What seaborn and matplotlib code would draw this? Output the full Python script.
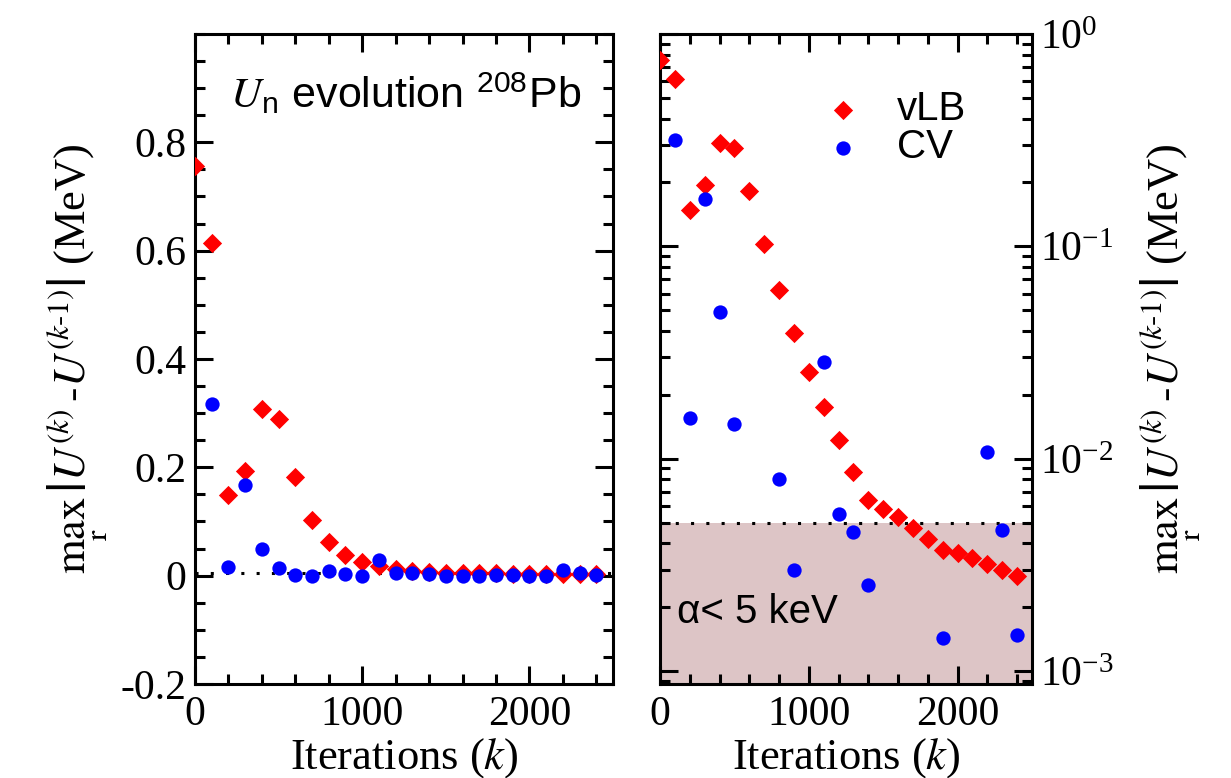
import matplotlib
matplotlib.use("Agg")
import numpy as np
import seaborn as sns
import matplotlib.pyplot as plt
from matplotlib.ticker import MultipleLocator, FixedLocator, LogLocator, LogFormatterMathtext, NullFormatter

# iterations k and max_r |U(k) - U(k-1)| in MeV
iterations = [0, 100, 200, 300, 400, 500, 600, 700, 800, 900, 1000, 1100, 1200,
              1300, 1400, 1500, 1600, 1700, 1800, 1900, 2000, 2100, 2200, 2300, 2400]
vlb = [0.756, 0.615, 0.148, 0.194, 0.308, 0.289, 0.183, 0.103, 0.062, 0.039, 0.0256,
       0.0176, 0.0123, 0.0087, 0.0064, 0.0058, 0.0053, 0.0047, 0.0042, 0.0037, 0.0036,
       0.0034, 0.0032, 0.0030, 0.0028]
cv = [np.nan, 0.316, 0.0155, 0.168, 0.049, 0.0146, 0.0004, 0.0003, 0.0080, 0.0030,
      0.0003, 0.0287, 0.0055, 0.0045, 0.00255, 0.0003, 0.0003, 0.0003, 0.0004, 0.00143,
      0.0003, 0.0003, 0.0108, 0.0046, 0.00148]
threshold = 0.005  # 5 keV

sns.set_theme(style="ticks")
plt.rcParams["font.family"] = ["Liberation Serif", "DejaVu Serif"]
plt.rcParams["mathtext.fontset"] = "stix"
plt.rcParams.update({
    "axes.linewidth": 2.2,
    "axes.edgecolor": "black",
    "text.color": "black", "axes.labelcolor": "black",
    "xtick.direction": "in", "ytick.direction": "in",
    "xtick.top": True, "ytick.right": True,
    "xtick.major.size": 13, "ytick.major.size": 13,
    "xtick.minor.size": 7, "ytick.minor.size": 7,
    "xtick.major.width": 2.2, "ytick.major.width": 2.2,
    "xtick.minor.width": 2.2, "ytick.minor.width": 2.2,
    "xtick.color": "black", "ytick.color": "black",
    "xtick.labelcolor": "black", "ytick.labelcolor": "black",
    "font.size": 30,
})

ylab = r"$\max_{\mathrm{r}}\,\left|U^{(k)}\text{-}U^{(k\text{-}1)}\right|$ (MeV)"
xlab = r"Iterations ($k$)"

fig = plt.figure(figsize=(12.31, 7.78), dpi=100)
ax1 = fig.add_axes([195 / 1231, 94 / 778, 418 / 1231, 650 / 778])
ax2 = fig.add_axes([660 / 1231, 94 / 778, 372 / 1231, 650 / 778])

for ax in (ax1, ax2):
    ax.axhline(threshold, color="black", ls=(0, (1, 4)), lw=2.2, zorder=1)
    sns.scatterplot(x=iterations, y=vlb, marker="D", s=96, color="red",
                    linewidth=0, ax=ax, label="vLB", zorder=3, clip_on=True)
    sns.scatterplot(x=iterations, y=cv, marker="o", s=106, color="blue",
                    linewidth=0, ax=ax, label="CV", zorder=4, clip_on=True)
    ax.set_xlim(0, 2500)
    ax.xaxis.set_major_locator(FixedLocator([0, 1000, 2000]))
    ax.xaxis.set_minor_locator(MultipleLocator(200))
    ax.tick_params(axis="both", which="both", labelsize=30)
    ax.tick_params(axis="x", which="major", pad=8)
    ax.set_xlabel(xlab, fontsize=32, labelpad=2)

# left panel: linear scale
ax1.set_ylim(-0.2, 1.0)
ax1.yaxis.set_major_locator(FixedLocator([-0.2, 0, 0.2, 0.4, 0.6, 0.8]))
ax1.yaxis.set_minor_locator(MultipleLocator(0.05))
ax1.set_yticklabels(["-0.2", "0", "0.2", "0.4", "0.6", "0.8"])
ax1.tick_params(axis="y", which="major", pad=6)
ax1.set_ylabel(ylab, fontsize=32, labelpad=8)
ax1.get_legend().remove()
ax1.text(0.084, 0.885, r"$U_\mathregular{n}$ evolution $^\mathregular{208}$Pb",
         transform=ax1.transAxes, family="Liberation Sans", fontsize=31,
         va="baseline", ha="left")

# right panel: log scale with the 5 keV band
ax2.set_yscale("log")
ax2.set_ylim(8.7e-4, 1.0)
ax2.axhspan(1e-5, threshold, color="#ddc5c6", zorder=0, lw=0)
ax2.yaxis.set_major_locator(LogLocator(base=10))
ax2.yaxis.set_major_formatter(LogFormatterMathtext())
ax2.yaxis.set_minor_locator(LogLocator(base=10, subs=np.arange(2, 10)))
ax2.yaxis.set_minor_formatter(NullFormatter())
ax2.tick_params(axis="y", which="both", left=True, right=True,
                labelleft=False, labelright=True, pad=6)
ax2.yaxis.set_label_position("right")
ax2.set_ylabel(ylab, fontsize=32, labelpad=18)
ax2.text(0.045, 0.094, "\u03b1< 5 keV", transform=ax2.transAxes,
         family="Liberation Sans", fontsize=29, va="baseline", ha="left")

handles, labels = ax2.get_legend_handles_labels()
ax2.legend(handles, labels, loc="center left", bbox_to_anchor=(0.42, 0.855),
           frameon=False, borderaxespad=0, handletextpad=0.95, handlelength=0.75,
           borderpad=0.3, labelspacing=0.0, prop={"family": "Liberation Sans", "size": 29})

fig.savefig("out.png", dpi=100)
